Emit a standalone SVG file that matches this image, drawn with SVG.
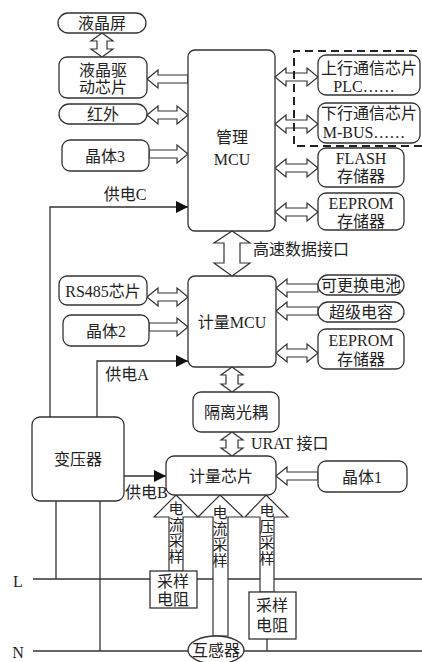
<svg xmlns="http://www.w3.org/2000/svg" width="422" height="662" viewBox="0 0 422 662">
<defs>
<style>
.b{fill:#fff;stroke:#333;stroke-width:1.3}
.ln{fill:none;stroke:#333;stroke-width:1.3}
.ar{fill:#fff;stroke:#333;stroke-width:1.2;stroke-linejoin:miter}
.t{font-family:"Liberation Serif","Noto Sans CJK SC",serif;font-size:16px;fill:#222;text-anchor:middle;dominant-baseline:central}
.tl{font-family:"Liberation Serif","Noto Sans CJK SC",serif;font-size:16px;fill:#222;dominant-baseline:central}
.tv{font-family:"Liberation Serif","Noto Sans CJK SC",serif;font-size:15px;fill:#222;text-anchor:middle;dominant-baseline:central}
.dash{fill:none;stroke:#222;stroke-width:2;stroke-dasharray:8,5}
</style>
<marker id="fa" viewBox="0 0 12 12" refX="12" refY="6" markerWidth="12" markerHeight="12" markerUnits="userSpaceOnUse" orient="auto">
<path d="M0,0 L12,6 L0,12 Z" fill="#111"/>
</marker>
</defs>
<rect width="422" height="662" fill="#fff"/>
<g id="connectors">
<line class="ln" x1="33" y1="579" x2="422" y2="579"/>
<line class="ln" x1="33" y1="651" x2="422" y2="651"/>
<line class="ln" x1="56" y1="501" x2="56" y2="579"/>
<line class="ln" x1="100" y1="501" x2="100" y2="651"/>
<line class="ln" x1="267" y1="639" x2="267" y2="651"/>
<polyline class="ln" points="50,417 50,207 188,207" marker-end="url(#fa)"/>
<polyline class="ln" points="97,417 97,361 188,361" marker-end="url(#fa)"/>
<line class="ln" x1="124" y1="476" x2="166" y2="476" marker-end="url(#fa)"/>
<!-- LCD vertical double -->
<polygon class="ar" points="102,33 113,41 107,41 107,49 113,49 102,57 91,49 97,49 97,41 91,41"/>
<!-- LCD driver <- MCU -->
<polygon class="ar" points="147,79 158,70 158,75 188,75 188,83 158,83 158,88"/>
<!-- IR double -->
<polygon class="ar" points="147,115 158,106 158,111 177,111 177,106 188,115 177,124 177,119 158,119 158,124"/>
<!-- crystal3 -> MCU -->
<polygon class="ar" points="188,154 177,145 177,150 149,150 149,158 177,158 177,163"/>
<!-- right side doubles top -->
<polygon class="ar" points="275,77 286,68 286,73 307,73 307,68 318,77 307,86 307,81 286,81 286,86"/>
<polygon class="ar" points="275,124 286,115 286,120 307,120 307,115 318,124 307,133 307,128 286,128 286,133"/>
<polygon class="ar" points="275,168 286,159 286,164 307,164 307,159 318,168 307,177 307,172 286,172 286,177"/>
<polygon class="ar" points="275,212 286,203 286,208 307,208 307,203 318,212 307,221 307,216 286,216 286,221"/>
<!-- high speed interface -->
<polygon class="ar" points="232,231 250,243 240,243 240,263 250,263 232,276 214,263 224,263 224,243 214,243"/>
<!-- RS485 double -->
<polygon class="ar" points="147,297 158,288 158,293 177,293 177,288 188,297 177,306 177,301 158,301 158,306"/>
<!-- crystal2 -> -->
<polygon class="ar" points="188,327 177,318 177,323 149,323 149,331 177,331 177,336"/>
<!-- battery, supercap <- -->
<polygon class="ar" points="276,288 287,279 287,284 318,284 318,292 287,292 287,297"/>
<polygon class="ar" points="276,311 287,302 287,307 318,307 318,315 287,315 287,320"/>
<!-- EEPROM2 double -->
<polygon class="ar" points="276,353 287,344 287,349 307,349 307,344 318,353 307,362 307,357 287,357 287,362"/>
<!-- MCU <-> optocoupler -->
<polygon class="ar" points="232,367 243,375 238,375 238,384 243,384 232,392 221,384 226,384 226,375 221,375"/>
<!-- URAT -->
<polygon class="ar" points="232,432 243,440 238,440 238,448 243,448 232,456 221,448 226,448 226,440 221,440"/>
<!-- crystal1 <- -->
<polygon class="ar" points="276,476 287,467 287,472 318,472 318,480 287,480 287,485"/>
<!-- up arrows -->
<polygon class="ar" points="176,495 198,517 183,517 183,571 169,571 169,517 154,517"/>
<polygon class="ar" points="220,495 243,517 228,517 228,636 213,636 213,517 198,517"/>
<polygon class="ar" points="266,495 288,517 274,517 274,592 260,592 260,517 245,517"/>
<text class="tv" x="176" y="509">电</text><text class="tv" x="176" y="525">流</text><text class="tv" x="176" y="541">采</text><text class="tv" x="176" y="557">样</text>
<text class="tv" x="220" y="513">电</text><text class="tv" x="220" y="529">流</text><text class="tv" x="220" y="545">采</text><text class="tv" x="220" y="561">样</text>
<text class="tv" x="267" y="511">电</text><text class="tv" x="267" y="527">压</text><text class="tv" x="267" y="543">采</text><text class="tv" x="267" y="559">样</text>
<text class="t" x="125" y="194">供电C</text>
<text class="t" x="127" y="374">供电A</text>
<text class="tl" x="125" y="492">供电B</text>
<text class="tl" x="253" y="249">高速数据接口</text>
<text class="tl" x="251" y="443">URAT 接口</text>
<text class="t" x="18" y="581">L</text>
<text class="t" x="18" y="652">N</text>
</g>
<g id="lcd"><rect class="b" x="58" y="13" width="88" height="20" rx="10"/><text class="t" x="102" y="23">液晶屏</text></g>
<g id="lcd-driver"><rect class="b" x="59" y="57" width="88" height="41" rx="8"/><text class="t" x="103" y="70">液晶驱</text><text class="t" x="103" y="87">动芯片</text></g>
<g id="ir"><rect class="b" x="59" y="104" width="88" height="20" rx="10"/><text class="t" x="103" y="114">红外</text></g>
<g id="crystal3"><rect class="b" x="62" y="140" width="87" height="31" rx="8"/><text class="t" x="105" y="156">晶体3</text></g>
<g id="mgmt-mcu"><rect class="b" x="188" y="50" width="87" height="181" rx="7"/><text class="t" x="232" y="137">管理</text><text class="t" x="232" y="159">MCU</text></g>
<g id="up-comm"><rect class="b" x="318" y="55" width="102" height="40" rx="8"/><text class="t" x="369" y="68">上行通信芯片</text><text class="t" x="364" y="86">PLC……</text></g>
<g id="down-comm"><rect class="b" x="318" y="103" width="102" height="40" rx="8"/><text class="t" x="369" y="113">下行通信芯片</text><text class="t" x="364" y="132">M-BUS……</text></g>
<g id="flash"><rect class="b" x="318" y="148" width="86" height="39" rx="8"/><text class="t" x="361" y="158">FLASH</text><text class="t" x="361" y="176">存储器</text></g>
<g id="eeprom1"><rect class="b" x="318" y="193" width="86" height="37" rx="8"/><text class="t" x="361" y="203">EEPROM</text><text class="t" x="361" y="221">存储器</text></g>
<g id="rs485"><rect class="b" x="59" y="276" width="88" height="29" rx="8"/><text class="t" x="103" y="291">RS485芯片</text></g>
<g id="crystal2"><rect class="b" x="63" y="315" width="86" height="31" rx="8"/><text class="t" x="106" y="331">晶体2</text></g>
<g id="meter-mcu"><rect class="b" x="188" y="276" width="88" height="91" rx="7"/><text class="t" x="232" y="322">计量MCU</text></g>
<g id="battery"><rect class="b" x="318" y="275" width="86" height="20" rx="10"/><text class="t" x="361" y="285">可更换电池</text></g>
<g id="supercap"><rect class="b" x="318" y="302" width="86" height="20" rx="10"/><text class="t" x="361" y="312">超级电容</text></g>
<g id="eeprom2"><rect class="b" x="318" y="329" width="86" height="40" rx="8"/><text class="t" x="361" y="340">EEPROM</text><text class="t" x="361" y="359">存储器</text></g>
<g id="optocoupler"><rect class="b" x="193" y="392" width="86" height="40" rx="8"/><text class="t" x="236" y="412">隔离光耦</text></g>
<g id="meter-chip"><rect class="b" x="166" y="456" width="110" height="39" rx="8"/><text class="t" x="221" y="476">计量芯片</text></g>
<g id="crystal1"><rect class="b" x="318" y="461" width="89" height="31" rx="8"/><text class="t" x="362" y="477">晶体1</text></g>
<g id="transformer"><rect class="b" x="32" y="417" width="92" height="84" rx="8"/><text class="t" x="78" y="459">变压器</text></g>
<g id="shunt1"><rect class="b" x="150" y="571" width="47" height="37"/><text class="t" x="173" y="581">采样</text><text class="t" x="173" y="599">电阻</text></g>
<g id="shunt2"><rect class="b" x="249" y="592" width="47" height="47"/><text class="t" x="272" y="605">采样</text><text class="t" x="272" y="625">电阻</text></g>
<g id="ct"><ellipse class="b" cx="216" cy="650" rx="28" ry="14"/><text class="t" x="216" y="650">互感器</text></g>
<g id="comm-group"><path class="dash" d="M430,51 H294 V146 H430"/></g>
</svg>
